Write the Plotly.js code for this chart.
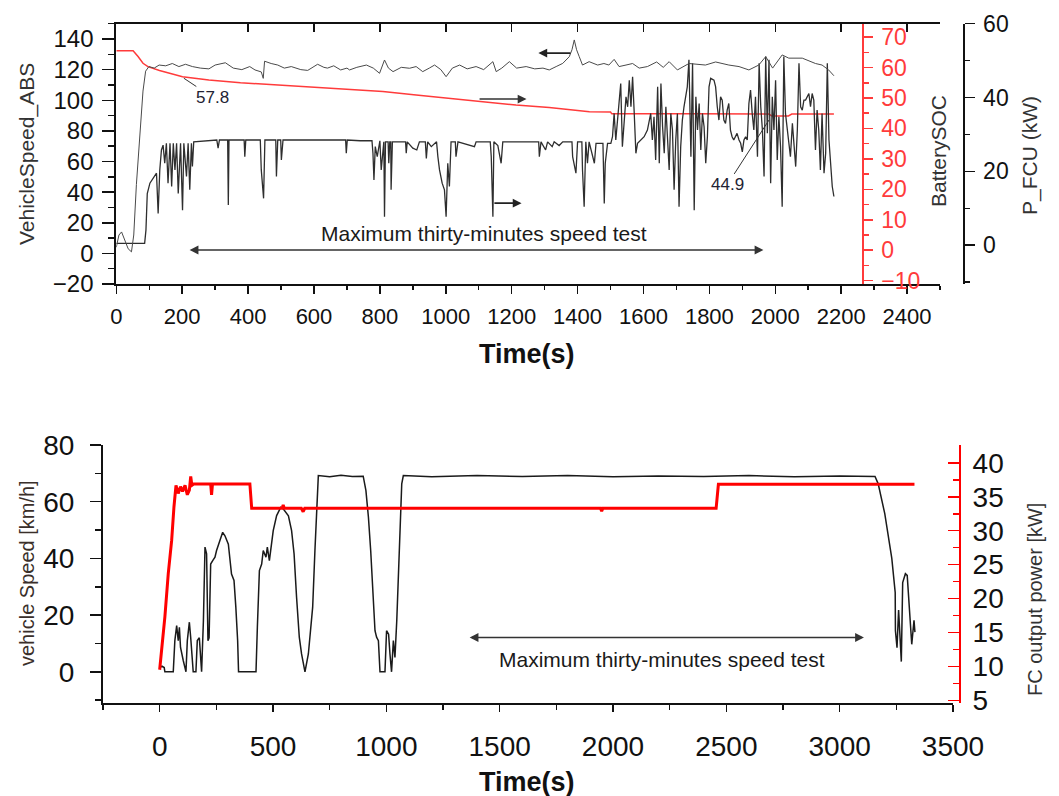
<!DOCTYPE html>
<html>
<head>
<meta charset="utf-8">
<script src="https://cdn.plot.ly/plotly-3.0.1.min.js"></script>
<style>html,body{margin:0;padding:0;background:#fff;}#chart{width:1059px;height:796px;}</style>
</head>
<body>
<div id="chart"></div>
<script>
// ---------- Top panel data ----------
const topSpeedT = [0,8,16,26,36,46,53,61,71,81,89,99,115,130,150,170,190,210,231,255,281,300,331,355,381,405,421,440,446,450,470,490,510,531,560,581,611,630,641,660,681,700,708,730,759,780,799,814,826,840,865,890,910,930,950,966,985,1001,1020,1042,1065,1092,1115,1143,1153,1170,1193,1215,1244,1270,1295,1314,1335,1355,1375,1383,1390,1397,1405,1415,1435,1461,1480,1495,1511,1526,1547,1567,1587,1612,1640,1660,1678,1703,1738,1788,1819,1859,1890,1920,1950,1971,1992,2021,2041,2082,2122,2142,2162,2178];
const topSpeedV = [4,12,14,8,3,1,12,45,78,106,119,122,121,123,122.5,124,122,123.5,122,121,120.5,123,124.5,121,120,122,119.8,118.5,114.3,125.5,124,123,121,122,120,119.5,123.5,121.5,121,122.5,119.8,121,119.8,121.5,123,121,117.6,126.3,121,118.7,121.5,120.9,122,118.7,121,123,120,115.4,121,123,120.5,122,120,125.2,118.7,121,125.2,121,122,120.5,121,119.8,122,124.1,128.5,133,139.4,133,128.5,123,125.2,123,124,123,126.7,122,123,124,121,122,125,121.5,125.2,119.8,124,123,125,123,122,119.8,123,128.5,121,129.6,127.5,127.5,124,123,119.8,116];

const socT = [0,51,66,81,96,131,201,281,377,447,497,587,687,809,910,1011,1112,1213,1314,1395,1436,1500,1504,1750,1980,1990,2040,2050,2178];
const socV = [65.5,65.5,63.6,61.4,60.3,59,57,55.9,55,54.5,54.2,53.7,52.8,52.1,51,49.9,48.8,47.7,46.9,46.0,45.5,45.4,44.8,44.8,44.7,44.1,44.1,44.7,44.7];

const pfcuT = [0,86,90,94,102,117,122,127,132,137,142,147,152,157,163,168,173,178,183,188,195,201,205,213,218,223,228,231,235,305,309,313,338,340,342,388,390,393,437,440,447,451,484,486,490,499,501,506,696,698,701,740,776,779,782,786,792,800,804,812,814,817,825,827,830,833,834,838,878,880,883,900,912,920,938,941,945,956,972,976,981,989,996,1001,1006,1011,1016,1029,1031,1037,1087,1092,1135,1138,1143,1146,1158,1168,1173,1282,1284,1289,1303,1309,1323,1329,1344,1355,1383,1385,1395,1400,1413,1415,1420,1425,1430,1435,1451,1456,1477,1481,1484,1491,1501,1506,1511,1516,1526,1531,1536,1547,1552,1557,1562,1567,1572,1577,1582,1592,1602,1612,1622,1627,1632,1637,1643,1648,1653,1658,1663,1668,1678,1683,1688,1693,1698,1703,1708,1713,1718,1723,1728,1733,1738,1744,1749,1754,1759,1764,1769,1774,1779,1784,1789,1794,1799,1804,1814,1819,1824,1829,1834,1839,1844,1849,1854,1859,1864,1869,1874,1879,1884,1890,1895,1900,1905,1910,1915,1920,1925,1930,1935,1940,1946,1951,1956,1961,1966,1971,1976,1981,1986,1991,1996,2001,2006,2011,2016,2021,2026,2031,2036,2041,2046,2052,2057,2062,2067,2072,2077,2082,2087,2092,2102,2107,2112,2117,2122,2127,2132,2137,2142,2148,2153,2158,2163,2168,2173,2178];
const pfcuV = [0.5,0.5,4.1,14,16.8,18.6,19.5,8.6,20.4,25.8,27.1,22.2,27.6,16.8,27.6,15.9,27.6,20.4,27.6,14,27.6,9.5,27.6,18.6,27.6,15,27.6,21.3,28,28.5,26.3,28.5,28.5,10.9,28.5,28.5,24,28.5,28.5,20.4,12.7,28.5,28.5,18.6,28.5,28.5,23.1,28.5,28.5,24.9,28.5,28.3,28.3,24.9,17.7,26.7,24,28.3,20.4,28,7.7,28,28,22.2,28,28,15,28,28,24.9,28,26.3,25.8,28,28,23.5,28,26.7,28,24,20.4,16.8,15,7.7,22.2,15.9,28,28,24,28,26.7,28,28,24,7.7,28,27,22.2,28,28,24,28,25.8,28,26.7,28,27,28,28,24,19.5,28,28,20.4,10.4,28,22.2,28,22.2,27.6,27.6,11.3,22.2,27.6,27.6,29.4,35.7,28.5,37.5,43.8,26.7,40.2,37.5,44.7,37.5,45.6,35.7,24.9,27.6,28.5,29.4,31.2,35.7,28.5,34.8,23.1,42.9,22.2,43.8,32.1,24.9,37.5,20.4,35.7,31.2,15,28.5,35.7,10.4,26.7,33.9,37.5,40.2,42.9,50.2,24,49.3,9.5,40.2,31.2,38.4,25.8,35.7,32.1,22.2,29.4,42.9,45.2,44.7,42.9,37.5,33.9,40.2,39.3,33.9,33,36.6,38.4,31.2,29.4,28.5,29.4,30.3,28.5,27.6,25.3,28.5,29.4,28.5,38.4,42,35.7,31.2,40.2,24,49.3,37.5,31.2,18.6,51.1,30.3,50.2,16.8,40.2,31.2,44.7,23.1,34.8,26.7,10.4,51.1,35.7,31.2,26.7,24,33,26.7,21.3,31.2,49.3,37.5,36.6,39.3,39.3,41.1,37.5,41.1,39.3,25.8,36.6,31.2,20.4,35.7,19.5,24.9,49.3,28.5,22.2,15.9,13.2];

// ---------- Bottom panel data ----------
const botSpeedT = [0,10,20,23,60,67,75,82,87,92,104,116,122,131,137,142,148,160,166,175,185,193,200,207,213,218,225,234,244,251,266,278,288,303,317,328,336,344,348,425,431,440,450,457,469,475,484,490,501,516,534,545,568,582,593,604,616,626,641,656,666,675,685,693,700,750,800,850,898,910,921,931,940,950,957,965,972,994,1001,1010,1016,1023,1031,1038,1046,1053,1060,1068,1075,1200,1400,1600,1800,2000,2200,2400,2600,2800,3000,3156,3170,3199,3230,3245,3246,3253,3260,3272,3278,3290,3298,3309,3318,3328,3332];
const botSpeedV = [1.5,2,1.5,0,0,11,16.3,11,15.7,8.6,4,0,11,17.5,12,6.3,0,0,11,12,0,18,44,41.6,11,12,38,39.2,40.4,42.8,46.3,49.2,48,45,34.5,32.2,22.8,11,0,0,15.7,35.7,38,42.8,40.4,44,39.2,42.8,49.8,55.1,58,57.5,55,49.8,41.6,26.3,12.2,6.3,0,6.3,15.7,22.8,42.8,58,69.2,68.8,69.3,68.9,69,63.9,54.5,42.8,29.8,14.5,12.2,11,0,0,14.5,13.3,6.3,0,11,5.1,18,34.5,52.2,66.3,69.2,68.8,69.2,68.9,69.2,68.8,69.1,68.9,69.2,68.8,69.1,68.9,66.3,55.8,40,28,14.5,8.5,21.8,3.6,31.5,34.6,34,20.6,9.7,18.2,14];

const fcT = [0,23,38,53,63,72,82,92,101,112,122,131,137,142,150,225,229,233,398,406,540,545,550,625,633,640,1945,1950,1955,2455,2465,3330];
const fcP = [9.5,17.3,23.7,28.6,33.5,36.7,35.5,36.5,35.8,36.7,35.3,36,38,36.7,36.9,36.9,35.3,36.9,36.9,33.3,33.3,33.8,33.3,33.3,32.8,33.3,33.3,32.9,33.3,33.3,36.85,36.85];

// ---------- Tick / text labels ----------
const labelTopTitleLeft = 'VehicleSpeed_ABS';
const labelTopSOC = 'BatterySOC';
const labelTopPFCU = 'P_FCU (kW)';
const labelTime = 'Time(s)';
const labelBotLeft = 'vehicle Speed [km/h]';
const labelBotRight = 'FC output power [kW]';
const labelTest = 'Maximum thirty-minutes speed test';

const FONT = 'Liberation Sans, Arial, Helvetica, sans-serif';
const BLACK = '#111';
const RED = '#ff3b3b';

const traces = [
  // speed trace sits on the top-frame overlay axis (same range as x), which makes the frame line/ticks draw
  {x: topSpeedT, y: topSpeedV, xaxis:'x3', yaxis:'y', mode:'lines', line:{color:'#4a4a4a', width:1}, hoverinfo:'skip'},
  {x: socT, y: socV, xaxis:'x', yaxis:'y2', mode:'lines', line:{color:RED, width:1.5}, hoverinfo:'skip'},
  {x: pfcuT, y: pfcuV, xaxis:'x', yaxis:'y3', mode:'lines', line:{color:'#2e2e2e', width:1.3}, hoverinfo:'skip'},
  {x: botSpeedT, y: botSpeedV, xaxis:'x2', yaxis:'y4', mode:'lines', line:{color:'#1a1a1a', width:1.5}, hoverinfo:'skip'},
  {x: fcT, y: fcP, xaxis:'x2', yaxis:'y5', mode:'lines', line:{color:'#ff0000', width:3}, hoverinfo:'skip'}
];

const W = 1059, H = 796;
const px = v => v / W;
const py = v => 1 - v / H;

const axBase = {showgrid:false, zeroline:false, showline:true, linewidth:2, linecolor:BLACK, tickcolor:BLACK, tickwidth:1.5};

const layout = {
  width: W, height: H,
  margin: {l:0, r:0, t:0, b:0},
  paper_bgcolor:'#fff', plot_bgcolor:'rgba(0,0,0,0)',
  showlegend:false,
  font:{family:FONT, color:BLACK},
  xaxis: Object.assign({}, axBase, {
    domain:[px(116.3), px(940)], anchor:'y', range:[0,2500],
    tick0:0, dtick:200, ticks:'outside', ticklen:8,
    minor:{dtick:100, ticklen:4, ticks:'outside', tickcolor:BLACK},
    tickfont:{size:22, color:BLACK}, ticklabelstandoff:4
  }),
  xaxis3: Object.assign({}, axBase, {
    overlaying:'x', anchor:'y', side:'top', range:[0,2500],
    tick0:0, dtick:200, ticks:'inside', ticklen:8, showticklabels:false
  }),
  yaxis: Object.assign({}, axBase, {
    domain:[py(284), py(23.7)], anchor:'x', range:[-20,150],
    tick0:0, dtick:20, ticks:'outside', ticklen:12,
    minor:{dtick:10, ticklen:6, ticks:'outside', tickcolor:BLACK},
    tickfont:{size:24, color:BLACK}, ticklabelstandoff:4
  }),
  yaxis2: Object.assign({}, axBase, {
    overlaying:'y', anchor:'free', position:px(862.7), side:'right',
    range:[-11.1,74.4], tick0:0, dtick:10, ticks:'outside', ticklen:9,
    linecolor:RED, tickcolor:RED,
    minor:{dtick:5, ticklen:5, ticks:'outside', tickcolor:RED},
    tickfont:{size:23, color:RED}, ticklabelstandoff:4
  }),
  yaxis3: Object.assign({}, axBase, {
    overlaying:'y', anchor:'free', position:px(963.5), side:'right',
    range:[-10.5,60], tick0:0, dtick:20, ticks:'outside', ticklen:10,
    minor:{dtick:10, ticklen:5, ticks:'outside', tickcolor:BLACK},
    tickfont:{size:23, color:BLACK}, ticklabelstandoff:4
  }),
  xaxis2: Object.assign({}, axBase, {
    domain:[px(103), px(953)], anchor:'y4', range:[-250,3500],
    tick0:0, dtick:500, ticks:'outside', ticklen:7,
    minor:{dtick:250, ticklen:5, ticks:'outside', tickcolor:BLACK},
    tickfont:{size:28, color:BLACK}, ticklabelstandoff:10
  }),
  yaxis4: Object.assign({}, axBase, {
    domain:[py(703), py(445)], anchor:'x2', range:[-11,80],
    tick0:0, dtick:20, ticks:'outside', ticklen:11,
    minor:{dtick:10, ticklen:6, ticks:'outside', tickcolor:BLACK},
    tickfont:{size:28, color:BLACK}, ticklabelstandoff:10
  }),
  yaxis5: Object.assign({}, axBase, {
    overlaying:'y4', anchor:'free', position:px(960), side:'right',
    range:[4.6,42.64], tick0:5, dtick:5, ticks:'inside', ticklen:11,
    linecolor:'#ff0000', tickcolor:'#ff0000',
    minor:{dtick:2.5, ticklen:6, ticks:'inside', tickcolor:'#ff0000'},
    tickfont:{size:28, color:BLACK}, ticklabelstandoff:6
  }),
  annotations: [
    {xref:'paper', yref:'paper', x:px(27), y:py(154), text:labelTopTitleLeft, textangle:-90, showarrow:false, font:{size:21, color:'#333'}, xanchor:'center', yanchor:'middle'},
    {xref:'paper', yref:'paper', x:px(939), y:py(151), text:labelTopSOC, textangle:-90, showarrow:false, font:{size:21, color:'#333'}, xanchor:'center', yanchor:'middle'},
    {xref:'paper', yref:'paper', x:px(1030), y:py(156), text:labelTopPFCU, textangle:-90, showarrow:false, font:{size:21, color:'#333'}, xanchor:'center', yanchor:'middle'},
    {xref:'paper', yref:'paper', x:px(527), y:py(354), text:'<b>'+labelTime+'</b>', showarrow:false, font:{size:27, color:BLACK}, xanchor:'center', yanchor:'middle'},
    {xref:'paper', yref:'paper', x:px(27), y:py(573), text:labelBotLeft, textangle:-90, showarrow:false, font:{size:20, color:'#3a2f2a'}, xanchor:'center', yanchor:'middle'},
    {xref:'paper', yref:'paper', x:px(1035), y:py(600), text:labelBotRight, textangle:-90, showarrow:false, font:{size:20, color:'#333'}, xanchor:'center', yanchor:'middle'},
    {xref:'paper', yref:'paper', x:px(527), y:py(782), text:'<b>'+labelTime+'</b>', showarrow:false, font:{size:27, color:BLACK}, xanchor:'center', yanchor:'middle'},
    {xref:'x', yref:'y', x:1117, y:13.3, text:labelTest, showarrow:false, font:{size:21, color:'#1a1a1a'}},
    {xref:'x', yref:'y', axref:'x', ayref:'y', x:1964, y:2.2, ax:218, ay:2.2, text:'', showarrow:true, arrowhead:2, startarrowhead:2, arrowside:'end+start', arrowsize:1.1, arrowwidth:1.6, arrowcolor:'#333'},
    {xref:'x', yref:'y', axref:'x', ayref:'y', x:1281, y:130.8, ax:1383, ay:130.8, text:'', showarrow:true, arrowhead:2, arrowsize:1.1, arrowwidth:1.6, arrowcolor:'#222'},
    {xref:'x', yref:'y', axref:'x', ayref:'y', x:1245, y:100.8, ax:1098, ay:100.8, text:'', showarrow:true, arrowhead:2, arrowsize:1.1, arrowwidth:1.6, arrowcolor:'#333'},
    {xref:'x', yref:'y', axref:'x', ayref:'y', x:1230, y:32.8, ax:1143, ay:32.8, text:'', showarrow:true, arrowhead:2, arrowsize:1.1, arrowwidth:1.6, arrowcolor:'#222'},
    {xref:'x', yref:'y', axref:'x', ayref:'y', x:205, y:114.4, ax:293, ay:101.8, text:'57.8', showarrow:true, arrowhead:0, arrowwidth:1, arrowcolor:'#333', font:{size:17, color:'#223'}},
    {xref:'x', yref:'y', axref:'x', ayref:'y', x:1981, y:87.1, ax:1854, ay:44.7, text:'44.9', showarrow:true, arrowhead:0, arrowwidth:1, arrowcolor:'#333', font:{size:17, color:'#223'}},
    {xref:'x2', yref:'y4', x:2216, y:4.3, text:labelTest, showarrow:false, font:{size:21, color:'#1a1a1a'}},
    {xref:'x2', yref:'y4', axref:'x2', ayref:'y4', x:3107, y:12.1, ax:1361, ay:12.1, text:'', showarrow:true, arrowhead:2, startarrowhead:2, arrowside:'end+start', arrowsize:1.1, arrowwidth:1.6, arrowcolor:'#333'}
  ]
};

Plotly.newPlot('chart', traces, layout, {staticPlot:true, displayModeBar:false});
</script>
</body>
</html>
